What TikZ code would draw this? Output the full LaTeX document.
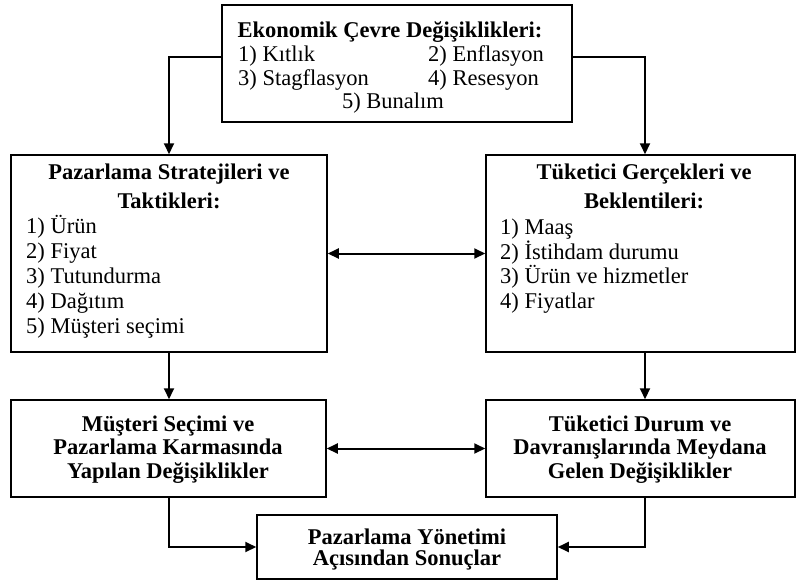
\documentclass[tikz,border=0pt]{standalone}
\usepackage{fontspec}
\setmainfont{Liberation Serif}
\usetikzlibrary{arrows.meta}
\begin{document}
\begin{tikzpicture}[x=1pt,y=-1pt,
  box/.style={draw, line width=1.5pt, inner sep=0pt},
  arr/.style={line width=2pt, -{Triangle[length=11pt,width=10pt]}},
  darr/.style={line width=2pt, {Triangle[length=11pt,width=10pt]}-{Triangle[length=11pt,width=10pt]}},
  ttl/.style={font=\bfseries\fontsize{22.5}{24}\selectfont, anchor=base, inner sep=0pt},
  itm/.style={font=\fontsize{22.5}{24}\selectfont, anchor=base west, inner sep=0pt},
  itc/.style={font=\fontsize{22.5}{24}\selectfont, anchor=base, inner sep=0pt}]
\useasboundingbox[fill=white] (0,0) rectangle (797,581);

% boxes
\node[box, minimum width=350pt, minimum height=117pt] (top) at (397,63.5) {};
\node[box, minimum width=316pt, minimum height=197pt] (ml) at (169,253.5) {};
\node[box, minimum width=309pt, minimum height=197pt] (mr) at (640.5,253.5) {};
\node[box, minimum width=315pt, minimum height=97pt] (bl) at (168.5,448.5) {};
\node[box, minimum width=309pt, minimum height=97pt] (br) at (640.5,448.5) {};
\node[box, minimum width=300pt, minimum height=64pt] (fin) at (407,547) {};

% top box text
\node[ttl] (t0) at (390,37) {Ekonomik Çevre Değişiklikleri:};
\node[itm] (t1) at (238,61) {1) Kıtlık};
\node[itm] (t2) at (428,61) {2) Enflasyon};
\node[itm] (t3) at (238,85) {3) Stagflasyon};
\node[itm] (t4) at (428,85) {4) Resesyon};
\node[itc] (t5) at (393,108) {5) Bunalım};

% middle left text
\node[ttl] (l0) at (169,179) {Pazarlama Stratejileri ve};
\node[ttl] (l0b) at (169,208) {Taktikleri:};
\node[itm] (l1) at (26,233) {1) Ürün};
\node[itm] (l2) at (26,258) {2) Fiyat};
\node[itm] (l3) at (26,283) {3) Tutundurma};
\node[itm] (l4) at (26,308) {4) Dağıtım};
\node[itm] (l5) at (26,333) {5) Müşteri seçimi};

% middle right text
\node[ttl] (r0) at (644,179) {Tüketici Gerçekleri ve};
\node[ttl] (r0b) at (644,208) {Beklentileri:};
\node[itm] (r1) at (500,234) {1) Maaş};
\node[itm] (r2) at (500,259) {2) İstihdam durumu};
\node[itm] (r3) at (500,283) {3) Ürün ve hizmetler};
\node[itm] (r4) at (500,308) {4) Fiyatlar};

% bottom left text
\node[ttl] (b1) at (168,431) {Müşteri Seçimi ve};
\node[ttl] (b2) at (168,454) {Pazarlama Karmasında};
\node[ttl] (b3) at (168,478) {Yapılan Değişiklikler};

% bottom right text
\node[ttl] (c1) at (640,431) {Tüketici Durum ve};
\node[ttl] (c2) at (640,454) {Davranışlarında Meydana};
\node[ttl] (c3) at (640,478) {Gelen Değişiklikler};

% final text
\node[ttl] (f1) at (407,544) {Pazarlama Yönetimi};
\node[ttl] (f2) at (407,565) {Açısından Sonuçlar};

% connectors
\draw[arr] ([yshift=6.5pt]top.west) -| (ml.north);
\draw[arr] ([yshift=6.5pt]top.east) -| ([xshift=4.5pt]mr.north);
\draw[arr] (ml.south) -- (ml.south |- bl.north);
\draw[arr] ([xshift=4.5pt]mr.south) -- ([xshift=4.5pt]mr.south |- br.north);
\draw[darr] (ml.east) -- (mr.west);
\draw[darr] (bl.east) -- (br.west);
\draw[arr] (bl.south) |- (fin.west);
\draw[arr] ([xshift=4.5pt]br.south) |- (fin.east);
\end{tikzpicture}
\end{document}
